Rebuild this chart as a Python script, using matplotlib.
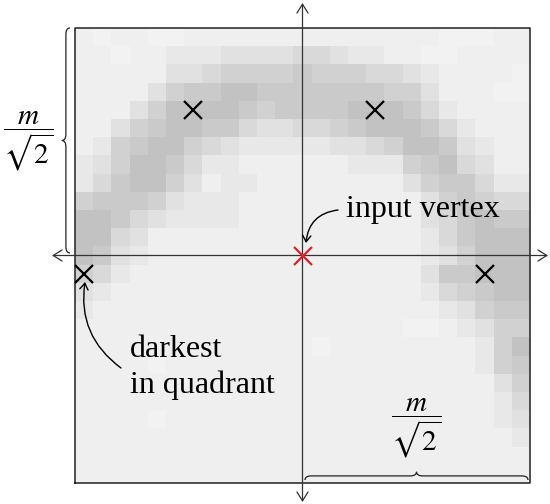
import numpy as np
import matplotlib.pyplot as plt
from matplotlib.patches import FancyArrowPatch, PathPatch
from matplotlib.path import Path

plt.rcParams["mathtext.fontset"] = "stix"
plt.rcParams["font.family"] = ["Liberation Serif", "DejaVu Serif"]

# 25x25 darkness map, one digit per cell (0 = lightest, 7 = darkest)
rows = [
    "1011001111111111111100011",
    "1101122233334432211001111",
    "1111133455556555443211110",
    "1111356677666666655311100",
    "1113577776566667776421111",
    "1135677664334456777642111",
    "1256775432222233457763211",
    "2357764221111112225674311",
    "2467753122111111113566422",
    "5666532221111111111356544",
    "7764322221111111111346766",
    "7743111111111111111246777",
    "7632111111111111111235777",
    "5421111111111111111366777",
    "3211111111111111111245677",
    "2111111111111111111123566",
    "1111111111111111110012355",
    "1111111111111011111111257",
    "1111011111111111111111256",
    "1111111111111111111111135",
    "1111111111111111111111124",
    "1111011111111111111111123",
    "1111111111111111111111112",
    "1111111111111111111111111",
    "1111111111111111111111111",
]
gray_levels = [0.948, 0.937, 0.91, 0.88, 0.85, 0.82, 0.79, 0.76]

# darkest cell per quadrant (row, col) and the input vertex
dark_rows = [4, 4, 13, 13]
dark_cols = [6, 16, 0, 22]
vertex_row, vertex_col = 12, 12

grid = np.array([[gray_levels[int(ch)] for ch in r] for r in rows])
n = grid.shape[0]
half = n / 2

U = 18.2                     # pixels per cell
CX, CY = 302.5, 255.5        # pixel position of the vertex


def px(x, y):
    return ((x - CX) / U, (CY - y) / U)


fig = plt.figure(figsize=(5.5, 5.04), dpi=100)
ax = fig.add_axes([0, 0, 1, 1])
ax.set_xlim(-CX / U, (550 - CX) / U)
ax.set_ylim(-(504 - CY) / U, CY / U)
ax.set_aspect("equal")
ax.axis("off")

ax.imshow(grid, cmap="gray", vmin=0, vmax=1, interpolation="nearest",
          extent=(-half, half, -half, half), origin="upper", zorder=1)
ax.plot([-half, half, half, -half, -half], [-half, -half, half, half, -half],
        color="#222222", lw=1.1, zorder=3)

# coordinate axes
for a, b in [(px(52, CY), px(548, CY)), (px(CX, 3), px(CX, 502))]:
    ax.add_patch(FancyArrowPatch(a, b, arrowstyle="<->,head_length=4,head_width=2.5",
                                 mutation_scale=1.6, color="#333333", lw=0.9,
                                 shrinkA=0, shrinkB=0, zorder=4))

# markers
to_xy = lambda r, c: (c - half + 0.5, half - r - 0.5)
mx, my = zip(*[to_xy(r, c) for r, c in zip(dark_rows, dark_cols)])
ax.plot(mx, my, "x", color="black", ms=13, mew=1.6, zorder=5)
vx, vy = to_xy(vertex_row, vertex_col)
ax.plot([vx], [vy], "x", color="#e0202a", ms=13.5, mew=1.6, zorder=5)

# labels with curved arrows
ax.text(*px(346, 217), "input vertex", fontsize=23, ha="left", va="baseline", zorder=6)
ax.add_patch(FancyArrowPatch(px(338, 210), px(306, 243), connectionstyle="arc3,rad=0.4",
                             arrowstyle="->,head_length=3,head_width=2", mutation_scale=1.5,
                             color="black", lw=1.0, shrinkA=0, shrinkB=0, zorder=6))
ax.text(*px(130, 357), "darkest", fontsize=23, ha="left", va="baseline", zorder=6)
ax.text(*px(130, 393), "in quadrant", fontsize=23, ha="left", va="baseline", zorder=6)
ax.add_patch(FancyArrowPatch(px(121, 368), px(85, 282), connectionstyle="arc3,rad=-0.3",
                             arrowstyle="->,head_length=3,head_width=2", mutation_scale=1.5,
                             color="black", lw=1.0, shrinkA=0, shrinkB=0, zorder=6))


def brace(x0, x1, base, depth, vertical=False):
    q = 0.35
    mid = (x0 + x1) / 2
    h = depth / 2
    pts = [(x0, base), (x0, base + h), (x0 + q, base + h),
           (mid - q, base + h), (mid, base + h), (mid, base + depth),
           (mid, base + h), (mid + q, base + h),
           (x1 - q, base + h), (x1, base + h), (x1, base)]
    codes = [Path.MOVETO, Path.CURVE3, Path.CURVE3, Path.LINETO, Path.CURVE3, Path.CURVE3,
             Path.CURVE3, Path.CURVE3, Path.LINETO, Path.CURVE3, Path.CURVE3]
    if vertical:
        pts = [(b, a) for a, b in pts]
    ax.add_patch(PathPatch(Path(pts, codes), fill=False, color="#222222", lw=0.9, zorder=6))


brace(px(0, 253)[1], px(0, 28)[1], px(70, 0)[0], -0.45, vertical=True)
brace(px(305, 0)[0], px(528, 0)[0], px(0, 480)[1], 0.45)

frac = r"$\dfrac{m}{\sqrt{2}}$"
ax.text(*px(28, 141), frac, fontsize=21, ha="center", va="center", zorder=6)
ax.text(*px(416, 428), frac, fontsize=21, ha="center", va="center", zorder=6)

fig.savefig("out.png", dpi=100)
